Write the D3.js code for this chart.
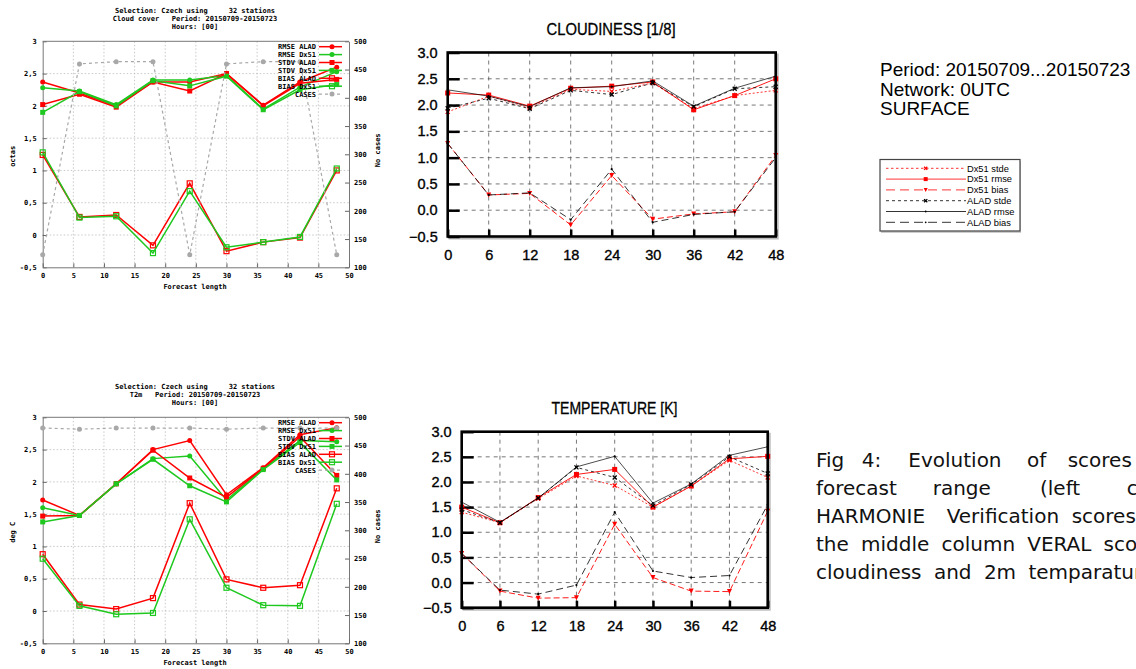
<!DOCTYPE html>
<html><head><meta charset="utf-8">
<script src="https://cdn.jsdelivr.net/npm/d3@7"></script>
<style>body{margin:0;background:#fff;overflow:hidden}</style>
</head><body>
<svg id="c" width="1136" height="669"></svg>
<script>
// ---------- DATA ----------
const leadTimes = [0, 6, 12, 18, 24, 30, 36, 42, 48];
const gnuXTicks = [0, 5, 10, 15, 20, 25, 30, 35, 40, 45, 50];
const scoreTicks = [-0.5, 0, 0.5, 1, 1.5, 2, 2.5, 3];
const casesTicks = [100, 150, 200, 250, 300, 350, 400, 450, 500];
const veralXTicks = [0, 6, 12, 18, 24, 30, 36, 42, 48];

// HARMONIE verification – cloud cover
const cloudRmseAlad = [2.37, 2.20, 2.00, 2.37, 2.37, 2.50, 2.01, 2.37, 2.60];
const cloudRmseDx51 = [2.28, 2.23, 2.02, 2.40, 2.40, 2.47, 1.95, 2.29, 2.53];
const cloudStdvAlad = [2.02, 2.18, 1.98, 2.37, 2.23, 2.50, 2.00, 2.35, 2.41];
const cloudStdvDx51 = [1.90, 2.22, 2.00, 2.39, 2.31, 2.46, 1.94, 2.25, 2.33];
const cloudBiasAlad = [1.24, 0.28, 0.31, -0.16, 0.80, -0.25, -0.11, -0.04, 1.00];
const cloudBiasDx51 = [1.28, 0.27, 0.29, -0.28, 0.68, -0.19, -0.11, -0.03, 1.03];
const cloudCases = [122, 460, 464, 464, 122, 460, 464, 464, 122];

// HARMONIE verification – T2m
const t2RmseAlad = [1.72, 1.48, 1.97, 2.50, 2.64, 1.80, 2.22, 2.73, 2.84];
const t2RmseDx51 = [1.60, 1.48, 1.97, 2.36, 2.40, 1.72, 2.20, 2.64, 2.62];
const t2StdvAlad = [1.47, 1.48, 1.97, 2.49, 2.06, 1.76, 2.21, 2.70, 2.10];
const t2StdvDx51 = [1.38, 1.48, 1.97, 2.35, 1.94, 1.69, 2.19, 2.61, 2.03];
const t2BiasAlad = [0.88, 0.10, 0.03, 0.20, 1.67, 0.49, 0.36, 0.40, 1.90];
const t2BiasDx51 = [0.81, 0.08, -0.05, -0.03, 1.42, 0.36, 0.09, 0.08, 1.66];
const t2Cases = [481, 479, 481, 481, 481, 479, 481, 481, 481];

// VERAL – cloudiness
const vcDx51Stde = [1.87, 2.17, 1.95, 2.30, 2.26, 2.42, 1.93, 2.18, 2.28];
const vcDx51Rmse = [2.23, 2.19, 1.98, 2.32, 2.36, 2.44, 1.91, 2.18, 2.50];
const vcDx51Bias = [1.27, 0.29, 0.32, -0.28, 0.66, -0.17, -0.07, -0.03, 1.04];
const vcAladStde = [1.94, 2.13, 1.93, 2.28, 2.20, 2.42, 1.97, 2.31, 2.35];
const vcAladRmse = [2.29, 2.17, 1.97, 2.33, 2.35, 2.46, 1.98, 2.32, 2.55];
const vcAladBias = [1.27, 0.29, 0.33, -0.18, 0.78, -0.23, -0.08, -0.03, 1.00];

// VERAL – temperature
const vtDx51Stde = [1.40, 1.19, 1.67, 2.12, 1.93, 1.50, 1.92, 2.43, 2.09];
const vtDx51Rmse = [1.50, 1.19, 1.69, 2.15, 2.25, 1.50, 1.92, 2.46, 2.51];
const vtDx51Bias = [0.58, -0.17, -0.31, -0.30, 1.16, 0.10, -0.17, -0.18, 1.42];
const vtAladStde = [1.45, 1.19, 1.68, 2.29, 2.09, 1.53, 1.95, 2.50, 2.17];
const vtAladRmse = [1.60, 1.20, 1.68, 2.30, 2.51, 1.58, 1.96, 2.53, 2.70];
const vtAladBias = [0.58, -0.15, -0.23, -0.05, 1.40, 0.23, 0.10, 0.14, 1.55];

const gnuLegend = ["RMSE ALAD", "RMSE Dx51", "STDV ALAD", "STDV Dx51", "BIAS ALAD", "BIAS Dx51", "CASES"];
const veralLegend = ["Dx51 stde", "Dx51 rmse", "Dx51 bias", "ALAD stde", "ALAD rmse", "ALAD bias"];

// ---------- RENDER ----------
const svg = d3.select('#c');
svg.append('rect').attr('width', 1136).attr('height', 669).attr('fill', '#fff');
const MONO = "'DejaVu Sans Mono', 'Liberation Mono', monospace";
const SANS = "'Liberation Sans', Arial, Helvetica, sans-serif";
const RED = '#ff0000', GREEN = '#1ec81e', GREY = '#a8a8a8';

function marker(g, type, cx, cy, color, size) {
  const s = size || 5;
  if (type === 'circle') {
    g.append('circle').attr('cx', cx).attr('cy', cy).attr('r', s / 2).attr('fill', color);
  } else if (type === 'fsquare') {
    g.append('rect').attr('x', cx - s / 2).attr('y', cy - s / 2).attr('width', s).attr('height', s).attr('fill', color);
  } else if (type === 'osquare') {
    g.append('rect').attr('x', cx - s / 2).attr('y', cy - s / 2).attr('width', s).attr('height', s)
      .attr('fill', 'none').attr('stroke', color).attr('stroke-width', 1.2);
  } else if (type === 'x') {
    const h = s / 2;
    g.append('path').attr('d', `M${cx - h},${cy - h}L${cx + h},${cy + h}M${cx - h},${cy + h}L${cx + h},${cy - h}`)
      .attr('stroke', color).attr('stroke-width', 1.3);
  } else if (type === 'tri') {
    const h = s / 2;
    g.append('path').attr('d', `M${cx - h},${cy - h}L${cx + h},${cy - h}L${cx},${cy + h}Z`).attr('fill', color);
  } else if (type === 'dot') {
    g.append('circle').attr('cx', cx).attr('cy', cy).attr('r', s / 2).attr('fill', color);
  }
}

function drawSeries(g, x, y, vals, st) {
  const line = d3.line().x((d, i) => x(leadTimes[i])).y(d => y(d));
  g.append('path').datum(vals).attr('d', line).attr('fill', 'none')
    .attr('stroke', st.color).attr('stroke-width', st.width)
    .attr('stroke-dasharray', st.dash || null);
  vals.forEach((v, i) => marker(g, st.marker, x(leadTimes[i]), y(v), st.mcolor || st.color, st.msize));
}

function gnuChart(cfg) {
  const g = svg.append('g');
  const x = d3.scaleLinear().domain([0, 50]).range([42.7, 349]);
  const y = d3.scaleLinear().domain([-0.5, 3]).range([cfg.bottom, cfg.top]);
  const y2 = d3.scaleLinear().domain([100, 500]).range([cfg.bottom, cfg.top]);
  // grid
  g.selectAll(null).data(gnuXTicks.slice(1, -1)).join('line')
    .attr('x1', d => x(d)).attr('x2', d => x(d)).attr('y1', cfg.top).attr('y2', cfg.bottom)
    .attr('stroke', '#bbb').attr('stroke-width', 0.8).attr('stroke-dasharray', '1.5,2');
  g.selectAll(null).data(scoreTicks.slice(1, -1)).join('line')
    .attr('x1', 42.7).attr('x2', 349).attr('y1', d => y(d)).attr('y2', d => y(d))
    .attr('stroke', '#bbb').attr('stroke-width', 0.8).attr('stroke-dasharray', '1.5,2');
  const fmt = d => String(d).replace('.', ',');
  const axStyle = sel => {
    sel.selectAll('text').attr('font-family', MONO).attr('font-size', 7).attr('font-weight', 'bold').attr('fill', '#000');
    sel.selectAll('line').attr('stroke', '#666');
    sel.select('.domain').attr('stroke', '#777');
  };
  g.append('g').attr('transform', `translate(42.7,0)`)
    .call(d3.axisLeft(y).tickValues(scoreTicks).tickSize(-4).tickPadding(6).tickFormat(fmt).tickSizeOuter(0)).call(axStyle);
  g.append('g').attr('transform', `translate(349,0)`)
    .call(d3.axisRight(y2).tickValues(casesTicks).tickSize(-4).tickPadding(5).tickSizeOuter(0)).call(axStyle);
  g.append('g').attr('transform', `translate(0,${cfg.bottom})`)
    .call(d3.axisBottom(x).tickValues(gnuXTicks).tickSize(-4).tickPadding(6).tickSizeOuter(0)).call(axStyle);
  g.append('line').attr('x1', 42.7).attr('x2', 349).attr('y1', cfg.top).attr('y2', cfg.top).attr('stroke', '#777');
  // titles
  cfg.titles.forEach((t, i) => g.append('text').attr('x', 195).attr('y', cfg.top - 28 + i * 7.8)
    .attr('text-anchor', 'middle').attr('font-family', MONO).attr('font-size', 7).attr('font-weight', 'bold')
    .attr('xml:space', 'preserve').style('white-space', 'pre').text(t));
  const mid = (cfg.top + cfg.bottom) / 2;
  g.append('text').attr('transform', `translate(15,${mid + 2}) rotate(-90)`).attr('text-anchor', 'middle')
    .attr('font-family', MONO).attr('font-size', 7).attr('font-weight', 'bold').text(cfg.ylabel);
  g.append('text').attr('transform', `translate(380,${mid - 4}) rotate(-90)`).attr('text-anchor', 'middle')
    .attr('font-family', MONO).attr('font-size', 7).attr('font-weight', 'bold').text('No cases');
  g.append('text').attr('x', 195).attr('y', cfg.bottom + 22).attr('text-anchor', 'middle')
    .attr('font-family', MONO).attr('font-size', 7).attr('font-weight', 'bold').text('Forecast length');
  // series
  const styles = [
    { color: RED, width: 1.5, marker: 'circle', msize: 5 },
    { color: GREEN, width: 1.5, marker: 'circle', msize: 5 },
    { color: RED, width: 1.5, marker: 'fsquare', msize: 5 },
    { color: GREEN, width: 1.5, marker: 'fsquare', msize: 5 },
    { color: RED, width: 1.5, marker: 'osquare', msize: 5 },
    { color: GREEN, width: 1.5, marker: 'osquare', msize: 5 },
    { color: GREY, width: 1.2, marker: 'circle', msize: 5, dash: '3,3' }
  ];
  cfg.series.forEach((vals, i) => drawSeries(g, x, i === 6 ? y2 : y, vals, styles[i]));
  // legend
  gnuLegend.forEach((lab, i) => {
    const ly = cfg.top + 5.4 + i * 7.9;
    g.append('text').attr('x', 316).attr('y', ly).attr('dy', '0.35em').attr('text-anchor', 'end')
      .attr('font-family', MONO).attr('font-size', 7).attr('font-weight', 'bold').text(lab);
    const st = styles[i];
    g.append('line').attr('x1', 319).attr('x2', 342).attr('y1', ly).attr('y2', ly)
      .attr('stroke', st.color).attr('stroke-width', st.width).attr('stroke-dasharray', st.dash || null);
    marker(g, st.marker, 332, ly, st.color, st.msize);
  });
}

const veralStyles = [
  { color: RED, width: 0.8, dash: '2,2', marker: 'x', msize: 4 },
  { color: RED, width: 0.9, marker: 'fsquare', msize: 5 },
  { color: RED, width: 0.9, dash: '6,3', marker: 'tri', msize: 5 },
  { color: '#000', width: 0.8, dash: '3,3', marker: 'x', msize: 4 },
  { color: '#000', width: 0.7, marker: 'dot', msize: 2.2 },
  { color: '#000', width: 0.8, dash: '7,4', marker: 'dot', msize: 2.2 }
];

function veralChart(cfg) {
  const g = svg.append('g');
  const x = d3.scaleLinear().domain([0, 48]).range([cfg.left, cfg.right]);
  const y = d3.scaleLinear().domain([-0.5, 3]).range([cfg.bottom, cfg.top]);
  // shadow
  g.append('rect').attr('x', cfg.left + 2).attr('y', cfg.top + 2).attr('width', cfg.right - cfg.left)
    .attr('height', cfg.bottom - cfg.top).attr('fill', 'none').attr('stroke', '#bbb').attr('stroke-width', 2);
  g.append('rect').attr('x', cfg.left).attr('y', cfg.top).attr('width', cfg.right - cfg.left)
    .attr('height', cfg.bottom - cfg.top).attr('fill', '#fff');
  // grid
  g.selectAll(null).data(veralXTicks.slice(1, -1)).join('line')
    .attr('x1', d => x(d)).attr('x2', d => x(d)).attr('y1', cfg.top).attr('y2', cfg.bottom)
    .attr('stroke', '#555').attr('stroke-width', 0.8).attr('stroke-dasharray', '4,4');
  g.selectAll(null).data(scoreTicks.slice(1, -1)).join('line')
    .attr('x1', cfg.left).attr('x2', cfg.right).attr('y1', d => y(d)).attr('y2', d => y(d))
    .attr('stroke', '#555').attr('stroke-width', 0.8).attr('stroke-dasharray', '4,4');
  const axStyle = sel => {
    sel.selectAll('text').attr('font-family', SANS).attr('font-size', 14.5).attr('fill', '#000')
      .attr('stroke', '#000').attr('stroke-width', 0.35);
    sel.selectAll('line').attr('stroke', '#000').attr('stroke-width', 2.5);
    sel.select('.domain').remove();
  };
  g.append('g').attr('transform', `translate(${cfg.left},0)`)
    .call(d3.axisLeft(y).tickValues(scoreTicks).tickSize(-12).tickPadding(10).tickFormat(d3.format('.1f')))
    .call(axStyle);
  g.append('g').attr('transform', `translate(0,${cfg.bottom})`)
    .call(d3.axisBottom(x).tickValues(veralXTicks).tickSize(-7).tickPadding(13).tickFormat(d3.format('d')))
    .call(axStyle);
  // series
  cfg.series.forEach((vals, i) => drawSeries(g, x, y, vals, veralStyles[i]));
  // frame
  g.append('rect').attr('x', cfg.left).attr('y', cfg.top).attr('width', cfg.right - cfg.left)
    .attr('height', cfg.bottom - cfg.top).attr('fill', 'none').attr('stroke', '#000').attr('stroke-width', 2.6);
  g.append('text').attr('x', cfg.titleX).attr('y', cfg.titleY).attr('text-anchor', 'middle')
    .attr('font-family', SANS).attr('font-size', 16).attr('textLength', cfg.titleW).attr('lengthAdjust', 'spacingAndGlyphs')
    .attr('stroke', '#000').attr('stroke-width', 0.3)
    .text(cfg.title);
}

gnuChart({
  top: 41.3, bottom: 267.3, ylabel: 'octas',
  titles: ['Selection: Czech using     32 stations', 'Cloud cover   Period: 20150709-20150723', 'Hours: [00]'],
  series: [cloudRmseAlad, cloudRmseDx51, cloudStdvAlad, cloudStdvDx51, cloudBiasAlad, cloudBiasDx51, cloudCases]
});
gnuChart({
  top: 417.3, bottom: 643.3, ylabel: 'deg C',
  titles: ['Selection: Czech using     32 stations', 'T2m   Period: 20150709-20150723', 'Hours: [00]'],
  series: [t2RmseAlad, t2RmseDx51, t2StdvAlad, t2StdvDx51, t2BiasAlad, t2BiasDx51, t2Cases]
});
veralChart({
  left: 447.7, right: 775.7, top: 52.5, bottom: 236.5,
  title: 'CLOUDINESS [1/8]', titleX: 611, titleY: 34.5, titleW: 129,
  series: [vcDx51Stde, vcDx51Rmse, vcDx51Bias, vcAladStde, vcAladRmse, vcAladBias]
});
veralChart({
  left: 461.7, right: 767.7, top: 431.7, bottom: 607.7,
  title: 'TEMPERATURE [K]', titleX: 614.5, titleY: 414, titleW: 126,
  series: [vtDx51Stde, vtDx51Rmse, vtDx51Bias, vtAladStde, vtAladRmse, vtAladBias]
});

// VERAL header text
['Period: 20150709...20150723', 'Network: 0UTC', 'SURFACE'].forEach((t, i) =>
  svg.append('text').attr('x', 880).attr('y', 76 + i * 19.5).attr('font-family', SANS)
    .attr('font-size', 19).text(t));

// VERAL legend
const lg = svg.append('g');
lg.append('rect').attr('x', 881).attr('y', 161).attr('width', 140).attr('height', 72).attr('fill', '#ccc');
lg.append('rect').attr('x', 880).attr('y', 159.5).attr('width', 140).attr('height', 71.5)
  .attr('fill', '#fff').attr('stroke', '#444').attr('stroke-width', 1.2);
const legDash = ['2.5,2.5', null, '9,5', '3,3', null, '9,5'];
veralLegend.forEach((lab, i) => {
  const ly = 168.3 + i * 10.8;
  const st = veralStyles[i];
  lg.append('line').attr('x1', 886).attr('x2', 966).attr('y1', ly).attr('y2', ly)
    .attr('stroke', st.color).attr('stroke-width', 0.8).attr('stroke-dasharray', legDash[i]);
  marker(lg, st.marker, 925.7, ly, st.color, st.msize * 0.8);
  lg.append('text').attr('x', 967).attr('y', ly).attr('dy', '0.35em').attr('font-family', SANS)
    .attr('font-size', 9.3).text(lab);
});

// Caption (justified text, clipped at the right edge as in the source)
const capLines = [
  { words: [['Fig', 816], ['4:', 861.7], ['Evolution', 908.3], ['of', 1027], ['scores', 1067.7]] },
  { words: [['forecast', 816], ['range', 932.7], ['(left', 1040], ['column:', 1126.7]] },
  { words: [['HARMONIE', 816], ['Verification', 946.7], ['scores,', 1071.7]] },
  { text: 'the middle column VERAL scores)', ws: 5.8 },
  { text: 'cloudiness and 2m temparature.', ws: 6 }
];
capLines.forEach((ln, i) => {
  const t = svg.append('text').attr('y', 467.3 + i * 28).attr('font-family', "'DejaVu Sans', sans-serif")
    .attr('font-size', 20).attr('fill', '#111');
  if (ln.words) ln.words.forEach(([w, px]) => t.append('tspan').attr('x', px).text(w));
  else t.attr('x', 816).attr('word-spacing', ln.ws).text(ln.text);
});
</script>
</body></html>
